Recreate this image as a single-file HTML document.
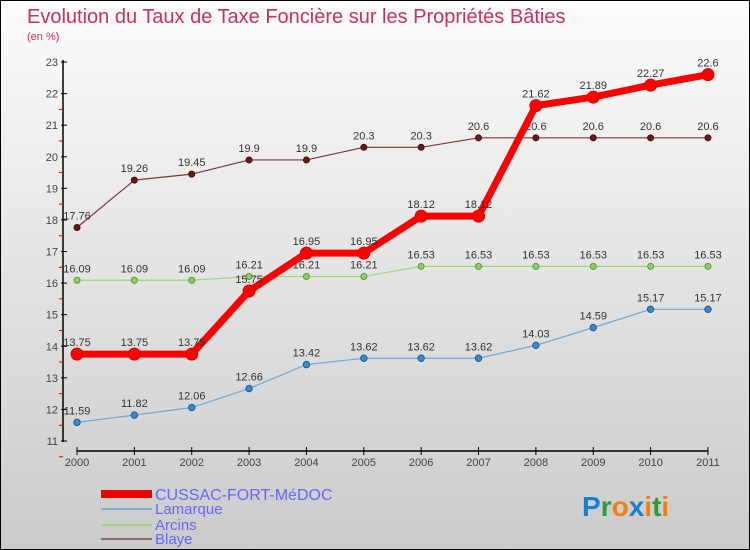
<!DOCTYPE html>
<html><head><meta charset="utf-8"><style>
body{margin:0}
#wrap{position:relative;width:750px;height:550px;box-sizing:border-box;border:1px solid #000;background:linear-gradient(#fcfcfc,#cbcbcb);font-family:"Liberation Sans",sans-serif;overflow:hidden}
svg{position:absolute;left:0;top:0}
</style></head><body>
<div id="wrap">
<svg id="chart" width="750" height="550">
<text x="26" y="22" font-size="20" fill="#c8305f">Evolution du Taux de Taxe Foncière sur les Propriétés Bâties</text>
<text x="26" y="39" font-size="11" fill="#c8305f">(en %)</text>
<g id="axes"></g><g id="series"></g>
<g>
<rect x="100" y="489" width="51" height="8" fill="#e00"/>
<text x="154" y="499" font-size="16" fill="#66f">CUSSAC-FORT-MéDOC</text>
<rect x="100" y="507" width="51" height="2" fill="#7aaed0"/>
<text x="154" y="513" font-size="15" fill="#66f">Lamarque</text>
<rect x="100" y="523" width="51" height="2" fill="#9fd67c"/>
<text x="154" y="529" font-size="15" fill="#66f">Arcins</text>
<rect x="100" y="537" width="51" height="2" fill="#8f6a6a"/>
<text x="154" y="543" font-size="15" fill="#66f">Blaye</text>
</g>
<text x="581" y="515" font-size="28" font-weight="bold"><tspan fill="#1a7fd0">P</tspan><tspan fill="#2a9a3a">r</tspan><tspan fill="#f08010">o</tspan><tspan fill="#1a7fd0">x</tspan><tspan fill="#f08010">i</tspan><tspan fill="#2a9a3a">t</tspan><tspan fill="#f08010">i</tspan></text>
</svg>
</div>
<script>
const years=[2000,2001,2002,2003,2004,2005,2006,2007,2008,2009,2010,2011];
const yTicks=[11,12,13,14,15,16,17,18,19,20,21,22,23];
const cussac=[13.75,13.75,13.75,15.75,16.95,16.95,18.12,18.12,21.62,21.89,22.27,22.6];
const lamarque=[11.59,11.82,12.06,12.66,13.42,13.62,13.62,13.62,14.03,14.59,15.17,15.17];
const arcins=[16.09,16.09,16.09,16.21,16.21,16.21,16.53,16.53,16.53,16.53,16.53,16.53];
const blaye=[17.76,19.26,19.45,19.9,19.9,20.3,20.3,20.6,20.6,20.6,20.6,20.6];
const NS="http://www.w3.org/2000/svg";
const xS=i=>76+i*57.36;
const yS=v=>440-(v-11)*31.58;
function mk(t,a,p){const e=document.createElementNS(NS,t);for(const k in a)e.setAttribute(k,a[k]);p.appendChild(e);return e;}
const ax=document.getElementById('axes');
let l=mk('line',{x1:62,y1:59,x2:62,y2:441,stroke:'#000','stroke-width':1.5},ax);


l=mk('line',{x1:76,y1:450,x2:707,y2:450,stroke:'#000','stroke-width':1.5},ax);


yTicks.forEach(v=>{const y=yS(v);
 mk('line',{x1:60,y1:y,x2:66,y2:y,stroke:'#000'},ax);
 if(v<23)mk('line',{x1:58,y1:y+15.8,x2:62,y2:y+15.8,stroke:'#d00'},ax);
 const t=mk('text',{x:57,y:y+4,'font-size':11,fill:'#444','text-anchor':'end'},ax);t.textContent=v;
 
 });
years.forEach((yr,i)=>{const x=xS(i);
 mk('line',{x1:x,y1:446,x2:x,y2:454,stroke:'#000'},ax);
 const t=mk('text',{x:x,y:465,'font-size':11,fill:'#444','text-anchor':'middle'},ax);t.textContent=yr;
 
 });
const sg=document.getElementById('series');
function draw(data,name,color,w,r,fill,stroke,labFn){
 const g=mk('g',{},sg);
 
 
 const p=mk('polyline',{points:data.map((v,i)=>xS(i)+','+yS(v)).join(' '),fill:'none',stroke:color,'stroke-width':w,'stroke-linejoin':'round'},g);
 
 
 data.forEach((v,i)=>{const c=mk('circle',{cx:xS(i),cy:yS(v),r:r,fill:fill,stroke:stroke,'stroke-width':1},g);
  
  
  const t=mk('text',{x:xS(i),y:yS(v)-8,'font-size':11,fill:'#333','text-anchor':'middle'},g);
  t.textContent=String(v).replace('.',',').replace(',', '.');
  
  });
}
draw(blaye,'blaye','#7a3a3a',1.2,3,'#6a1a1a','#4a0a0a');
draw(arcins,'arcins','#9fd67c',1.2,3,'#8fd060','#5a9a3a');
draw(lamarque,'lamarque','#6fa8d6',1.2,3.2,'#3a8ad0','#205a90');
draw(cussac,'cussac','#f00',7,6,'#f00','#d00');
</script>
</body></html>
